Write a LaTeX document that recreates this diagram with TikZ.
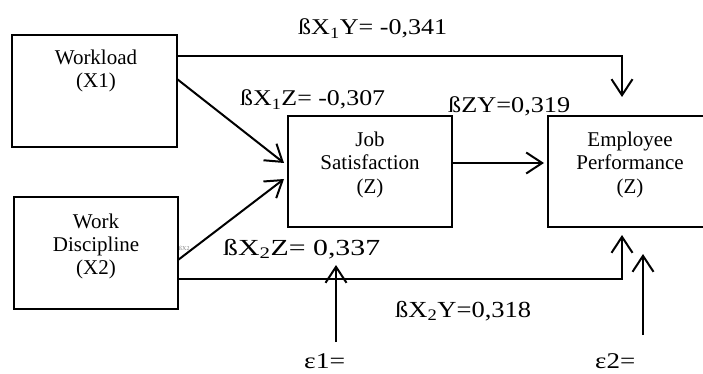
\documentclass[tikz,border=0pt]{standalone}
\usepackage{fontspec}
\setmainfont{Liberation Serif}
\usepackage{graphicx}
\usetikzlibrary{arrows.meta,calc}
\newcommand\hfit[2]{\resizebox{#1}{\height}{#2}}
\begin{document}
\begin{tikzpicture}[x=1pt,y=-1pt,
  box/.style={draw,line width=1.3pt,inner sep=0pt,outer sep=0pt,minimum width=164pt,minimum height=111pt},
  btxt/.style={anchor=base,inner sep=0pt,font=\fontsize{21}{24}\selectfont},
  lbl/.style={anchor=base west,inner sep=0pt,font=\fontsize{22.5}{26}\selectfont},
  arr/.style={line width=2pt,-{Straight Barb[length=16pt,width=21pt,line width=2pt]}},
  conn/.style={line width=2pt}]
\useasboundingbox (0,0) rectangle (703,374);
\fill[white] (0,0) rectangle (703,374);
% boxes
\node[box,minimum width=165pt,minimum height=112pt] (w1) at (94.5,91) {};
\node[box,minimum height=112pt] (wd) at (96,253) {};
\node[box] (js) at (370,171.5) {};
\begin{scope}
\clip (0,0) rectangle (703,374);
\node[box] (ep) at (630,171.5) {};
\end{scope}
% box texts
\node[btxt] (w1a) at (96,65) {Workload};
\node[btxt] (w1b) at (96,88) {(X1)};
\node[btxt] (wda) at (96,228) {Work};
\node[btxt] (wdb) at (96,251) {Discipline};
\node[btxt] (wdc) at (96,274) {(X2)};
\node[btxt] (jsa) at (370,147) {Job};
\node[btxt] (jsb) at (370,170) {Satisfaction};
\node[btxt] (jsc) at (370,193) {(Z)};
\node[btxt] (epa) at (630,147) {Employee};
\node[btxt] (epb) at (630,170) {Performance};
\node[btxt] (epc) at (630,193) {(Z)};
% connectors
\coordinate (a1) at ($(w1.north east)+(0,21)$);
\coordinate (a1t) at ($(ep.north west)+(74,-19)$);
\draw[arr] (a1) -| (a1t);
\coordinate (d1) at ($(w1.north east)+(0,44)$);
\coordinate (d1t) at ($(js.north west)+(-4,47)$);
\draw[arr] (d1) -- (d1t);
\coordinate (d2) at ($(wd.north east)+(0,63)$);
\coordinate (d2t) at ($(js.north west)+(-4,63)$);
\draw[arr] (d2) -- (d2t);
\coordinate (m1) at ($(js.east)+(0,-8.5)$);
\coordinate (m1t) at ($(ep.west)+(-4,-8.5)$);
\draw[arr] (m1) -- (m1t);
\coordinate (b1) at ($(wd.north east)+(0,82)$);
\coordinate (b1t) at ($(ep.south west)+(74,8)$);
\draw[arr] (b1) -| (b1t);
\coordinate (e1s) at (336,342);
\coordinate (e1t) at (336,265);
\draw[arr] (e1s) -- (e1t);
\coordinate (e2s) at (643,335);
\coordinate (e2t) at (643,254);
\draw[arr] (e2s) -- (e2t);
% labels
\node[lbl] (l1) at (298,35) {\hfit{149pt}{ßX\textsubscript{1}Y= -0,341}};
\node[lbl] (l2) at (240,106) {\hfit{145pt}{ßX\textsubscript{1}Z= -0,307}};
\node[lbl] (l3) at (448,113) {\hfit{122pt}{ßZY=0,319}};
\node[lbl,font=\fontsize{23}{26}\selectfont] (l4) at (223,255) {\hfit{157pt}{ßX\textsubscript{2}Z= 0,337}};
\node[lbl,font=\fontsize{23}{26}\selectfont] (l5) at (395,317) {\hfit{136pt}{ßX\textsubscript{2}Y=0,318}};
\node[lbl] (e1) at (304,368) {\hfit{41pt}{ε1=}};
\node[lbl] (e2) at (595,368) {\hfit{40pt}{ε2=}};
\node[anchor=base west,inner sep=0pt,font=\fontsize{6}{7}\selectfont,text=gray] (tiny) at (179,250) {ßX2};
\end{tikzpicture}
\end{document}
